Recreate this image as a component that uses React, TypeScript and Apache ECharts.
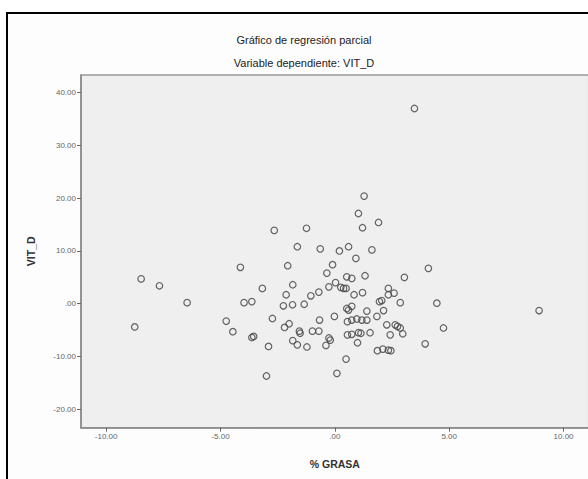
import React, { useEffect, useRef } from "react";
import * as echarts from "echarts";

const titleText = "Gráfico de regresión parcial";
const subtitleText = "Variable dependiente: VIT_D";
const xName = "% GRASA";
const yName = "VIT_D";
const xTicks = [-10, -5, 0, 5, 10];
const yTicks = [-20, -10, 0, 10, 20, 30, 40];

const grasa: number[] = [
  3.48, 1.28, 1.03, 1.21, 1.91, -2.65, -1.24, -1.64, -0.64, 0.2,
  0.6, 1.62, 0.92, -4.13, -2.06, -0.1, 4.09, -8.47, -7.67, -6.46,
  -8.75, -3.17, -1.84, -0.35, 0.52, 0.74, 1.32, 3.04, 0.03, -0.26,
  0.26, 0.49, 0.38, -0.7, -1.05, -2.13, 0.84, 1.21, 2.34, 2.59,
  2.34, 1.95, 2.05, 2.86, 4.46, 8.93, -3.97, -3.63, -2.25, -1.85,
  -1.34, -4.75, -2.73, -4.46, -3.63, -3.55, -2.2, -2.0, -1.55, -1.52,
  -1.84, -1.64, -1.22, -0.98, -0.7, -0.67, -0.02, -0.26, -0.2, -0.39,
  -2.9, 0.52, 0.6, 0.74, 1.4, 2.13, 1.84, 0.55, 0.74, 0.96,
  1.18, 1.4, 2.27, 2.64, 2.74, 2.86, 2.97, 2.42, 0.55, 0.74,
  1.03, 1.14, 1.54, 0.99, 1.86, 2.1, 2.34, 2.45, 3.95, 4.75,
  0.49, 0.09, -2.99,
];
const vitD: number[] = [
  37.0, 20.4, 17.1, 14.4, 15.4, 13.9, 14.3, 10.8, 10.4, 10.0,
  10.8, 10.2, 8.6, 6.9, 7.2, 7.4, 6.7, 4.7, 3.4, 0.2,
  -4.4, 2.9, 3.6, 5.8, 5.1, 4.8, 5.3, 5.0, 4.0, 3.2,
  3.1, 2.9, 2.9, 2.2, 1.5, 1.7, 1.7, 2.1, 2.9, 2.0,
  1.7, 0.4, 0.6, 0.2, 0.1, -1.3, 0.2, 0.4, -0.4, -0.2,
  -0.1, -3.3, -2.8, -5.3, -6.4, -6.2, -4.5, -3.8, -5.2, -5.6,
  -7.0, -7.8, -8.2, -5.2, -5.2, -3.1, -2.4, -6.5, -6.9, -7.9,
  -8.1, -0.9, -1.2, -0.5, -1.4, -1.3, -2.4, -3.4, -3.1, -2.9,
  -3.1, -3.1, -4.0, -4.0, -4.3, -4.6, -5.7, -5.9, -5.9, -5.8,
  -5.5, -5.6, -5.5, -7.4, -8.9, -8.6, -8.8, -8.9, -7.6, -4.6,
  -10.5, -13.2, -13.7,
];

const fmt = (v: number) => {
  const s = Math.abs(v).toFixed(2);
  const t = s.startsWith("0.") ? s.slice(1) : s;
  return (v < 0 ? "-" : "") + t;
};

export default function App() {
  const ref = useRef<HTMLDivElement>(null);
  useEffect(() => {
    if (!ref.current) return;
    const chart = echarts.init(ref.current, undefined, { renderer: "svg" });
    const font = "'Liberation Sans', Arial, sans-serif";
    chart.setOption({
      animation: false,
      backgroundColor: "#ffffff",
      textStyle: { fontFamily: font },
      graphic: [
        {
          type: "rect",
          z: -1,
          shape: { x: 7, y: 13, width: 600, height: 520 },
          style: { fill: "#fdfdfd", stroke: "#000", lineWidth: 2 },
        },
        {
          type: "text",
          x: 304,
          y: 40,
          style: {
            text: titleText,
            fontSize: 11,
            fontFamily: font,
            fill: "#222",
            align: "center",
            verticalAlign: "middle",
          },
        },
        {
          type: "text",
          x: 304,
          y: 63,
          style: {
            text: subtitleText,
            fontSize: 11,
            fontFamily: font,
            fill: "#222",
            align: "center",
            verticalAlign: "middle",
          },
        },
      ],
      grid: {
        left: 81,
        top: 75,
        width: 507.7,
        height: 352.7,
        show: true,
        backgroundColor: "#efefef",
        borderColor: "#999",
        borderWidth: 1.5,
      },
      xAxis: {
        type: "value",
        min: -11.1,
        max: 11.1,
        name: xName,
        nameLocation: "middle",
        nameGap: 31,
        nameTextStyle: { fontSize: 10.5, fontWeight: "bold", color: "#333", fontFamily: font },
        axisLine: { show: true, onZero: false, lineStyle: { color: "#888", width: 1.5 } },
        axisTick: { show: true, inside: false, length: 4, customValues: xTicks, lineStyle: { color: "#666" } },
        axisLabel: {
          customValues: xTicks,
          formatter: (v: number) => fmt(v),
          fontSize: 8,
          color: "#666",
          margin: 5,
        },
        splitLine: { show: false },
      },
      yAxis: {
        type: "value",
        min: -23.5,
        max: 43.35,
        name: yName,
        nameLocation: "middle",
        nameGap: 45,
        nameRotate: 90,
        nameTextStyle: { fontSize: 10.5, fontWeight: "bold", color: "#333", fontFamily: font },
        axisLine: { show: true, onZero: false, lineStyle: { color: "#888", width: 1.5 } },
        axisTick: { show: true, inside: false, length: 4, customValues: yTicks, lineStyle: { color: "#666" } },
        axisLabel: {
          customValues: yTicks,
          formatter: (v: number) => fmt(v),
          fontSize: 8,
          color: "#666",
          margin: 5,
        },
        splitLine: { show: false },
      },
      series: [
        {
          type: "scatter",
          data: grasa.map((x, i) => [x, vitD[i]]),
          symbol: "circle",
          symbolSize: 6.5,
          itemStyle: {
            color: "rgba(0,0,0,0)",
            borderColor: "#4a4a4a",
            borderWidth: 1.2,
            opacity: 0.85,
          },
        },
      ],
    });
    return () => chart.dispose();
  }, []);
  return (
    <div
      style={{
        position: "fixed",
        left: 0,
        top: 0,
        width: 588,
        height: 479,
        overflow: "hidden",
        background: "#fff",
      }}
    >
      <div ref={ref} style={{ width: 620, height: 479 }} />
    </div>
  );
}
